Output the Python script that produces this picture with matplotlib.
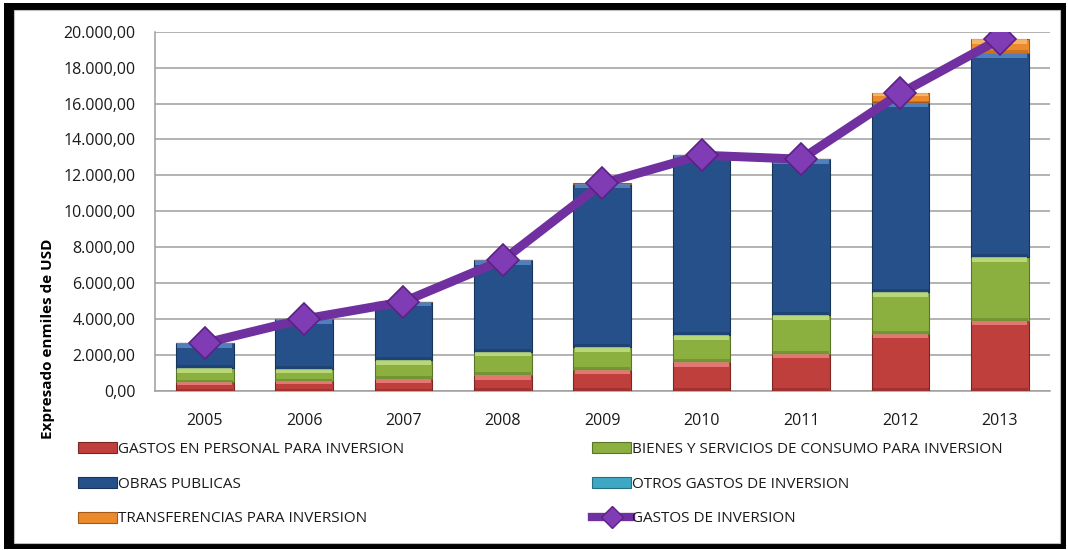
import matplotlib
matplotlib.use("Agg")
import matplotlib.pyplot as plt
import numpy as np
from matplotlib.patches import Rectangle
from matplotlib.lines import Line2D
from matplotlib.ticker import FuncFormatter

# gasto de inversion por componente, miles de USD
years = ["2005", "2006", "2007", "2008", "2009", "2010", "2011", "2012", "2013"]
personal = [480, 560, 650, 890, 1170, 1600, 2080, 3190, 3900]
bienes = [780, 665, 1060, 1300, 1260, 1500, 2135, 2320, 3545]
obras = [1390, 2765, 3245, 5080, 9110, 10010, 8675, 10545, 11365]
otros = [5, 5, 5, 5, 5, 5, 5, 10, 10]
transferencias = [10, 10, 10, 10, 10, 10, 10, 505, 770]

series = [
    ("GASTOS EN PERSONAL PARA INVERSION", personal, "#BE3F3B", "#F28A86", "#7E2624"),
    ("BIENES Y SERVICIOS DE CONSUMO PARA INVERSION", bienes, "#8BB040", "#C8E68A", "#5A7526"),
    ("OBRAS PUBLICAS", obras, "#26508A", "#5D8FCF", "#173459"),
    ("OTROS GASTOS DE INVERSION", otros, "#3EA8C4", "#8EDDF0", "#24707F"),
    ("TRANSFERENCIAS PARA INVERSION", transferencias, "#EC8B2E", "#FBC27A", "#A45A16"),
]
total = np.sum([s[1] for s in series], axis=0)

plt.rcParams["font.family"] = ["Open Sans", "DejaVu Sans"]

fig = plt.figure(figsize=(10.68, 5.5), dpi=100)

# marco negro con fondo blanco
W, H = 1068, 550
fig.patches.append(Rectangle((4 / W, 1 / H), 1062 / W, 546 / H, transform=fig.transFigure,
                             facecolor="black", edgecolor="none", zorder=0))
fig.patches.append(Rectangle((14 / W, 7 / H), 1046 / W, 533 / H, transform=fig.transFigure,
                             facecolor="white", edgecolor="#BDBDBD", lw=0.8, zorder=1))

ax = fig.add_axes([155 / W, 159 / H, 894.5 / W, 359.3 / H])
ax.set_facecolor("none")
ax.set_zorder(2)

x = np.arange(len(years))
width = 0.58
px = 20000 / 359.3  # data units per pixel

bottom = np.zeros(len(years))
for name, vals, col, light, dark in series:
    vals = np.array(vals, dtype=float)
    ax.bar(x, vals, width, bottom=bottom, color=col, edgecolor=dark, linewidth=0.8, zorder=3)
    # franja clara superior (efecto bisel)
    strip = np.minimum(4.5 * px, vals * 0.35)
    ax.bar(x, strip, width * 0.96, bottom=bottom + vals - strip, color=light,
           edgecolor="none", alpha=0.75, zorder=4)
    # sombra inferior
    shade = np.minimum(3 * px, vals * 0.2)
    ax.bar(x, shade, width * 0.98, bottom=bottom, color=dark, edgecolor="none",
           alpha=0.45, zorder=4)
    bottom += vals

ax.plot(x, total, color="#7030A0", lw=6.5, marker="D", markersize=16,
        markerfacecolor="#7F3CB5", markeredgecolor="#5B2284", markeredgewidth=1.2,
        zorder=6, solid_capstyle="round")

ax.set_xlim(-0.5, len(years) - 0.5)
ax.set_ylim(0, 20000)
ax.set_yticks(np.arange(0, 20001, 2000))
ax.yaxis.set_major_formatter(FuncFormatter(
    lambda v, p: f"{v:,.2f}".replace(",", "X").replace(".", ",").replace("X", ".")))
ax.set_xticks(x)
ax.set_xticklabels(years)
ax.tick_params(axis="both", length=0, labelsize=11.5, colors="#1A1A1A")
ax.tick_params(axis="x", pad=16)
ax.tick_params(axis="y", pad=14)
ax.grid(axis="y", color="#9E9E9E", lw=1.1, zorder=0)
ax.set_axisbelow(True)
for side in ["top", "right"]:
    ax.spines[side].set_visible(False)
for side in ["left", "bottom"]:
    ax.spines[side].set_color("#9E9E9E")
    ax.spines[side].set_linewidth(1.1)

fig.text(48 / W, 211 / H, "Expresado enmiles de USD", rotation=90, ha="center", va="center",
         fontsize=11, fontweight="bold", color="black")

# leyenda en dos columnas
def bar_handle(col, dark):
    return Rectangle((0, 0), 1, 1, facecolor=col, edgecolor=dark, lw=0.8)

h = {s[0]: bar_handle(s[2], s[4]) for s in series}
line_h = Line2D([], [], color="#7030A0", lw=6, marker="D", markersize=11,
                markerfacecolor="#7F3CB5", markeredgecolor="#5B2284")
col1 = [series[0][0], series[2][0], series[4][0]]
col2 = [series[1][0], series[3][0]]
leg_kw = dict(frameon=False, fontsize=11, handlelength=2.6, handleheight=0.75,
              handletextpad=0.05, labelspacing=1.3, loc="upper left",
              bbox_transform=fig.transFigure)
leg1 = fig.legend([h[n] for n in col1], col1, bbox_to_anchor=(64 / W, 122 / H), **leg_kw)
leg2 = fig.legend([h[n] for n in col2] + [line_h], col2 + ["GASTOS DE INVERSION"],
                  bbox_to_anchor=(578 / W, 122 / H), **leg_kw)
for leg in (leg1, leg2):
    for t in leg.get_texts():
        t.set_color("#1A1A1A")

fig.savefig("out.png", dpi=100)
